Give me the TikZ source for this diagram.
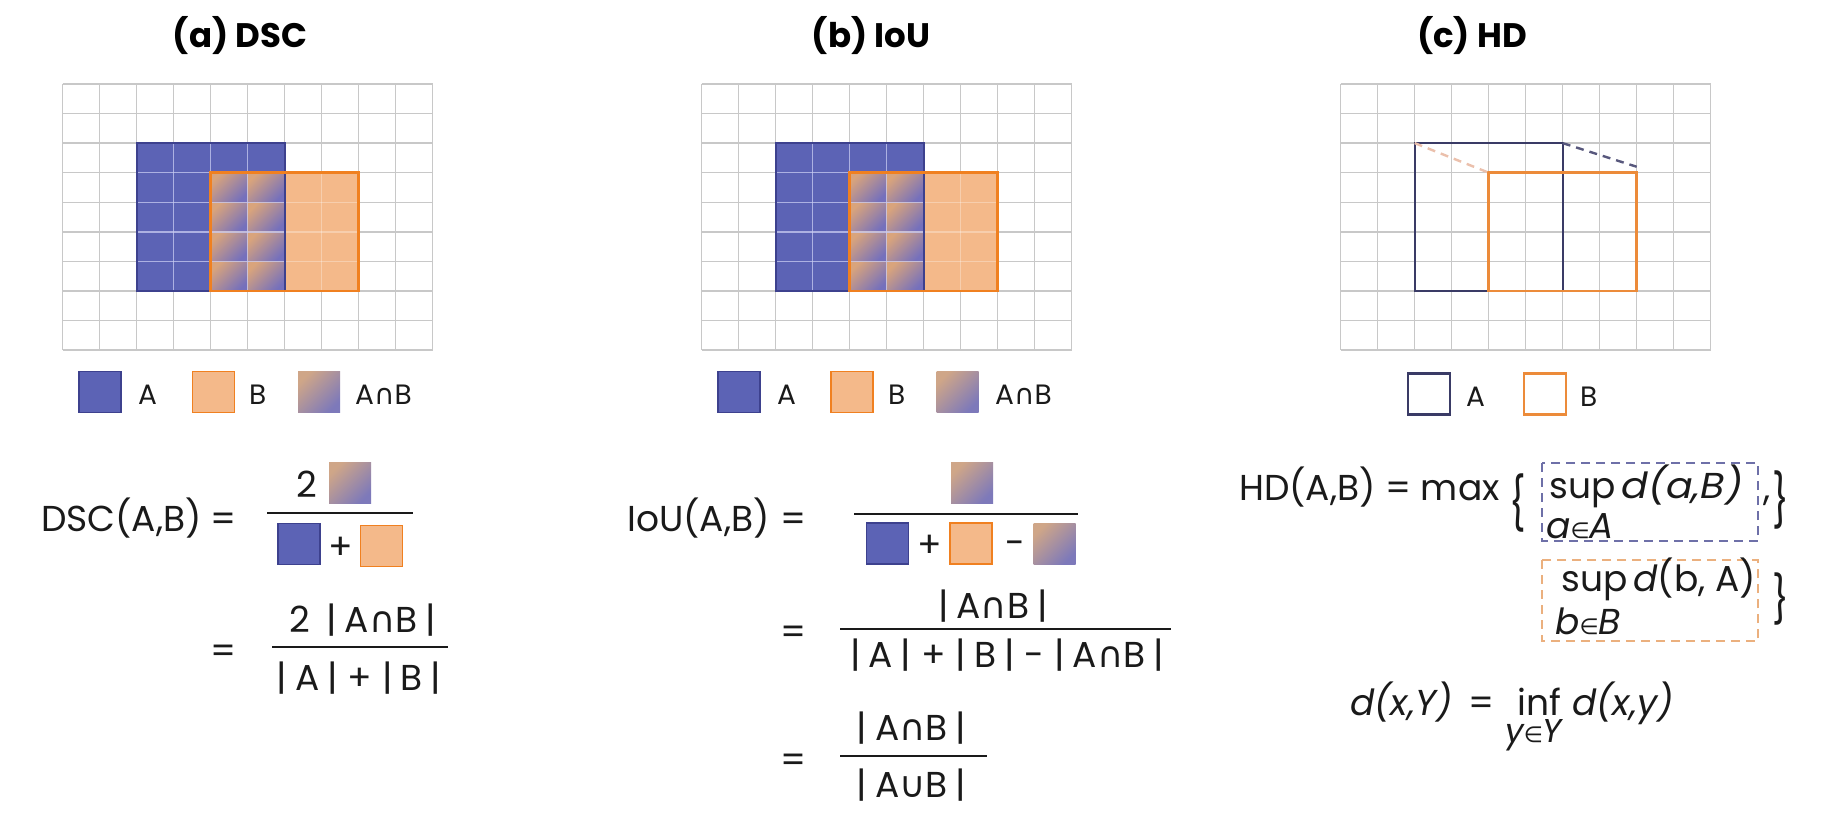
\documentclass[tikz,border=0pt]{standalone}
\usepackage{fontspec}
\usepackage{graphicx}
\setmainfont{Poppins}
\newfontfamily\symf{DejaVu Sans}
\newcommand\isect{{\symf ∩}}
\newcommand\uni{{\symf ∪}}
\newcommand\myin{{\symf\fontsize{22}{26}\selectfont ∈}}
\newcommand\bs{\hspace{0.22em}}
\definecolor{gridc}{HTML}{C8C8C8}
\definecolor{fillAc}{HTML}{5C63B5}
\definecolor{edgeAc}{HTML}{3D418E}
\definecolor{fillBc}{HTML}{F4B98A}
\definecolor{edgeBc}{HTML}{F08020}
\definecolor{tanC}{HTML}{D9A47C}
\definecolor{purpC}{HTML}{7570BC}
\definecolor{tanL}{HTML}{CFA688}
\definecolor{purpL}{HTML}{7D79BA}
\definecolor{navyO}{HTML}{3A3B66}
\definecolor{orangeO}{HTML}{EC8B3A}
\definecolor{dashAc}{HTML}{6E70A8}
\definecolor{dashBc}{HTML}{EBB07E}
\definecolor{pinkd}{HTML}{EBC0AC}
\definecolor{txt}{HTML}{1A1A1A}
\definecolor{lavl}{HTML}{C9CCF2}
\tikzset{
 gl/.style={draw=gridc, line width=1.4pt},
 wl/.style={draw=lavl, line width=1.4pt, opacity=0.75},
 wl2/.style={draw=white, line width=1.4pt, opacity=0.3},
 edgeA/.style={draw=edgeAc, line width=2.4pt},
 edgeB/.style={draw=edgeBc, line width=2.6pt},
 sqbase/.style={rectangle, minimum width=42pt, minimum height=41pt, inner sep=0pt},
 sqA/.style={sqbase, fill=fillAc, draw=edgeAc, line width=1.5pt},
 sqB/.style={sqbase, fill=fillBc, draw=edgeBc, line width=1.5pt},
 sqI/.style={sqbase, top color=tanL, bottom color=purpL, shading angle=45},
 sqoA/.style={sqbase, draw=navyO, line width=2.5pt, fill=white},
 sqoB/.style={sqbase, draw=orangeO, line width=2.5pt, fill=white},
 ttl/.style={font=\fontsize{34}{40}\selectfont\bfseries, anchor=base, inner sep=0pt, text=black},
 lab/.style={font=\fontsize{36}{42}\selectfont, anchor=base west, inner sep=0pt, text=txt},
 eqs/.style={font=\fontsize{36}{42}\selectfont, anchor=base, inner sep=0pt, text=txt},
 fr/.style={font=\fontsize{36}{42}\selectfont, anchor=base, inner sep=0pt, text=txt},
 sub/.style={font=\fontsize{36}{42}\selectfont\itshape, anchor=base west, inner sep=0pt, text=txt},
 leg/.style={font=\fontsize{28}{32}\selectfont, anchor=base west, inner sep=0pt, text=txt},
 brc/.style={font=\fontsize{36}{42}\selectfont, inner sep=0pt, text=txt},
 fracbar/.style={draw=txt, line width=2.2pt},
 dboxA/.style={draw=dashAc, line width=2pt, dash pattern=on 9pt off 6pt},
 dboxB/.style={draw=dashBc, line width=2pt, dash pattern=on 9pt off 6pt},
}
\newcommand\gridlines{%
  \foreach \i in {0,...,10} {\draw[gl] (\i,0) -- (\i,9);}
  \foreach \j in {0,...,9} {\draw[gl] (0,\j) -- (10,\j);}
}
\newcommand\filledpanel{%
  \gridlines
  \fill[fillAc] (2,2) rectangle (6,7);
  \fill[fillBc] (6,3) rectangle (8,7);
  \foreach \i in {4,5} {\foreach \j in {3,...,6} {%
    \shade[top color=tanC, bottom color=purpC, shading angle=45] (\i,\j) rectangle ++(1,1);}}
  \foreach \i in {3,4,5} {\draw[wl] (\i,2) -- (\i,7);}
  \foreach \j in {3,...,6} {\draw[wl] (2,\j) -- (6,\j);}
  \draw[wl2] (7,3) -- (7,7);
  \foreach \j in {4,5,6} {\draw[wl2] (6,\j) -- (8,\j);}
  \draw[edgeA] (2,2) rectangle (6,7);
  \draw[edgeB] (4,3) rectangle (8,7);
  \draw[edgeA] (6,3.05) -- (6,6.95);
}
\begin{document}
\begin{tikzpicture}[x=1pt,y=-1pt]
\useasboundingbox (0,0) rectangle (1828,831);
\fill[white] (0,0) rectangle (1828,831);

% ---------- titles ----------
\node[ttl] (ta) at (240,47) {(a) DSC};
\node[ttl] (tb) at (871,47) {(b) IoU};
\node[ttl] (tc) at (1472,47) {(c) HD};

% ---------- grids ----------
\begin{scope}[shift={(62.7,84)}, x=37pt, y=-29.56pt]
  \filledpanel
\end{scope}
\begin{scope}[shift={(701.7,84)}, x=37pt, y=-29.56pt]
  \filledpanel
\end{scope}
\begin{scope}[shift={(1340.7,84)}, x=37pt, y=-29.56pt]
  \gridlines
  \draw[draw=navyO, line width=2.4pt] (2,2) rectangle (6,7);
  \draw[draw=orangeO, line width=2.6pt] (4,3) rectangle (8,7);
  \draw[draw=navyO, line width=2.4pt] (6,3.05) -- (6,6.95);
  \draw[draw=navyO!85, line width=2.4pt, dash pattern=on 8pt off 6pt] (6,2) -- (8,2.8);
  \draw[draw=pinkd, line width=2.4pt, dash pattern=on 8pt off 6pt] (2,2) -- (4,3);
\end{scope}

% ---------- legends ----------
\node[sqA] (la1) at (100,392) {};
\node[leg] (la1t) at (138,404) {A};
\node[sqB] (la2) at (213.5,392) {};
\node[leg] (la2t) at (249,404) {B};
\node[sqI] (la3) at (319,392) {};
\node[leg] (la3t) at (355,404) {A\isect B};

\node[sqA] (lb1) at (739,392) {};
\node[leg] (lb1t) at (777,404) {A};
\node[sqB] (lb2) at (852,392) {};
\node[leg] (lb2t) at (888,404) {B};
\node[sqI] (lb3) at (957.5,392) {};
\node[leg] (lb3t) at (995,404) {A\isect B};

\node[sqoA] (lc1) at (1429,394) {};
\node[leg] (lc1t) at (1466,406) {A};
\node[sqoB] (lc2) at (1545,394) {};
\node[leg] (lc2t) at (1580,406) {B};

% ---------- (a) DSC formula ----------
\node[lab] (dscl) at (41,531) {DSC(A,B)};
\node[eqs] (dsceq1) at (224,531) {=};
\node[fr] (dscn2) at (306.5,497) {2};
\node[sqI] (dscnI) at (350,483) {};
\coordinate (dscb1l) at (267,513);
\coordinate (dscb1r) at (413,513);
\draw[fracbar] (dscb1l) -- (dscb1r);
\node[sqA] (dscdA) at (299,544) {};
\node[fr] (dscplus) at (341,559) {+};
\node[sqB] (dscdB) at (381.5,546) {};
\node[eqs] (dsceq2) at (224,663) {=};
\coordinate (dscb2l) at (272,647);
\coordinate (dscb2r) at (448,647);
\draw[fracbar] (dscb2l) -- (dscb2r);
\node[fr] (dscnum) at (363,632) {2\;\,|\bs A\isect B\bs|};
\node[fr] (dscden) at (359,690) {|\bs A\bs|\;+\;|\bs B\bs|};

% ---------- (b) IoU formula ----------
\node[lab] (ioul) at (627,531) {IoU(A,B)};
\node[eqs] (ioueq1) at (794,531) {=};
\node[sqI] (iounI) at (972,483) {};
\coordinate (ioub1l) at (854,514);
\coordinate (ioub1r) at (1078,514);
\draw[fracbar] (ioub1l) -- (ioub1r);
\node[sqA] (ioudA) at (887.5,543.5) {};
\node[fr] (iouplus) at (930,557) {+};
\node[sqB] (ioudB) at (971,543.5) {};
\node[fr] (ioumin) at (1015,555) {-};
\node[sqI] (ioudI) at (1054.6,543.5) {};
\node[eqs] (ioueq2) at (794,644) {=};
\coordinate (ioub2l) at (840,629);
\coordinate (ioub2r) at (1171,629);
\draw[fracbar] (ioub2l) -- (ioub2r);
\node[fr] (iounum2) at (993,618) {|\bs A\isect B\bs|};
\node[fr] (iouden2) at (1007,667) {|\bs A\bs|\;+\;|\bs B\bs|\;-\;|\bs A\isect B\bs|};
\node[eqs] (ioueq3) at (794,772) {=};
\coordinate (ioub3l) at (840,756);
\coordinate (ioub3r) at (987,756);
\draw[fracbar] (ioub3l) -- (ioub3r);
\node[fr] (iounum3) at (911.5,740) {|\bs A\isect B\bs|};
\node[fr] (iouden3) at (911.5,797) {|\bs A\uni B\bs|};

% ---------- (c) HD formula ----------
\node[lab] (hdl) at (1239,500.6) {HD(A,B) = max};
\node[brc] (hdlb) at (1518,503) {\scalebox{1}[1.45]{\{}};
\draw[dboxA] (1542,463) rectangle (1758,541);
\node[lab] (hdsup1) at (1549,498) {sup\,\scalebox{1.1}[1]{\textit{d(a,B)}}};
\node[sub] (hdsub1) at (1546,538) {a\myin A};
\node[lab] (hdcomma) at (1763,500.6) {,};
\node[brc] (hdrb1) at (1781,500) {\scalebox{1}[1.45]{\}}};
\draw[dboxB] (1542,560) rectangle (1758,641);
\node[lab] (hdsup2) at (1561,591) {sup\,\textit{d}(b, A)};
\node[sub] (hdsub2) at (1555,634) {b\myin B};
\node[brc] (hdrb2) at (1781,599) {\scalebox{1}[1.3]{\}}};

\node[lab, font=\fontsize{36}{42}\selectfont\itshape] (dxl) at (1350,715.6) {d(x,Y)};
\node[eqs] (dxeq) at (1481,715.6) {=};
\node[lab] (dxinf) at (1517,715.6) {inf};
\node[sub, font=\fontsize{33}{38}\selectfont\itshape] (dxsub) at (1505,742) {y\myin Y};
\node[lab, font=\fontsize{36}{42}\selectfont\itshape] (dxr) at (1572,715.6) {d(x,y)};
\end{tikzpicture}
\end{document}
